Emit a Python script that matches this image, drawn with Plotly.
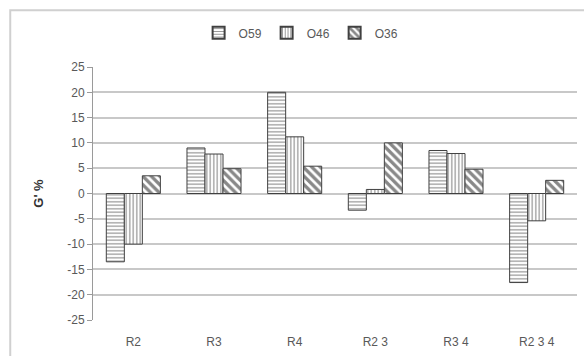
import plotly.graph_objects as go

categories = ["R2", "R3", "R4", "R2 3", "R3 4", "R2 3 4"]
o59 = [-13.5, 9.0, 20.0, -3.3, 8.5, -17.6]
o46 = [-10.0, 7.8, 11.2, 0.8, 7.9, -5.4]
o36 = [3.5, 4.9, 5.4, 10.0, 4.8, 2.6]
series_names = ["O59", "O46", "O36"]
y_ticks = list(range(-25, 30, 5))
y_tick_text = [str(v) for v in y_ticks]

patterns = [
    dict(shape="-", size=3.5, solidity=0.35, fgcolor="#2a2a2a", bgcolor="white", fillmode="overlay"),
    dict(shape="|", size=3.5, solidity=0.35, fgcolor="#2a2a2a", bgcolor="white", fillmode="overlay"),
    dict(shape="\\", size=6, solidity=0.55, fgcolor="#111111", bgcolor="white", fillmode="overlay"),
]

fig = go.Figure()
for name, vals, pat in zip(series_names, [o59, o46, o36], patterns):
    fig.add_trace(go.Bar(
        x=categories, y=vals, name=name,
        marker=dict(color="white", pattern=pat,
                    line=dict(color="#404040", width=1)),
    ))

fig.update_layout(
    width=584, height=356,
    margin=dict(l=93, r=7, t=67, b=36),
    paper_bgcolor="white", plot_bgcolor="white",
    barmode="group", bargap=0.33, bargroupgap=0,
    font=dict(family="Liberation Sans, Arial, sans-serif", size=12, color="#595959"),
    showlegend=True,
    legend=dict(orientation="h", x=0.43, xanchor="center", y=1.135, yanchor="middle",
                bgcolor="rgba(0,0,0,0)",
                font=dict(size=12, color="#595959"), itemwidth=30,
                traceorder="normal", tracegroupgap=0, itemsizing="constant"),
    xaxis=dict(type="category", showline=False, ticks="", showgrid=False,
               ticklabelstandoff=13, tickfont=dict(size=12, color="#595959")),
    xaxis2=dict(overlaying="x", anchor="free", position=0.5, range=[-0.5, 5.5],
                showline=True, linecolor="#9a9a9a", linewidth=1,
                ticks="outside", ticklen=4, tickcolor="#9a9a9a",
                tickvals=[0.5, 1.5, 2.5, 3.5, 4.5, 5.5],
                showticklabels=False, showgrid=False, zeroline=False),
    yaxis=dict(range=[-25, 25], tickvals=y_ticks, ticktext=y_tick_text, showgrid=True,
               gridcolor="#c8c8c8", gridwidth=1.5, zeroline=False,
               showline=True, linecolor="#9a9a9a", linewidth=1,
               ticks="outside", ticklen=5, tickcolor="#9a9a9a",
               tickfont=dict(size=12, color="#595959"),
               title=dict(text="G' %", standoff=20,
                          font=dict(size=13, color="#333333", family="Liberation Sans, Arial, sans-serif", weight="bold"))),
)

# chart area frame
fig.add_shape(type="rect", xref="paper", yref="paper",
              x0=-0.171, x1=1.2, y0=-0.3, y1=1.224,
              line=dict(color="#d0d0d0", width=2), fillcolor="rgba(0,0,0,0)", layer="below")

fig.write_html("out.html")
